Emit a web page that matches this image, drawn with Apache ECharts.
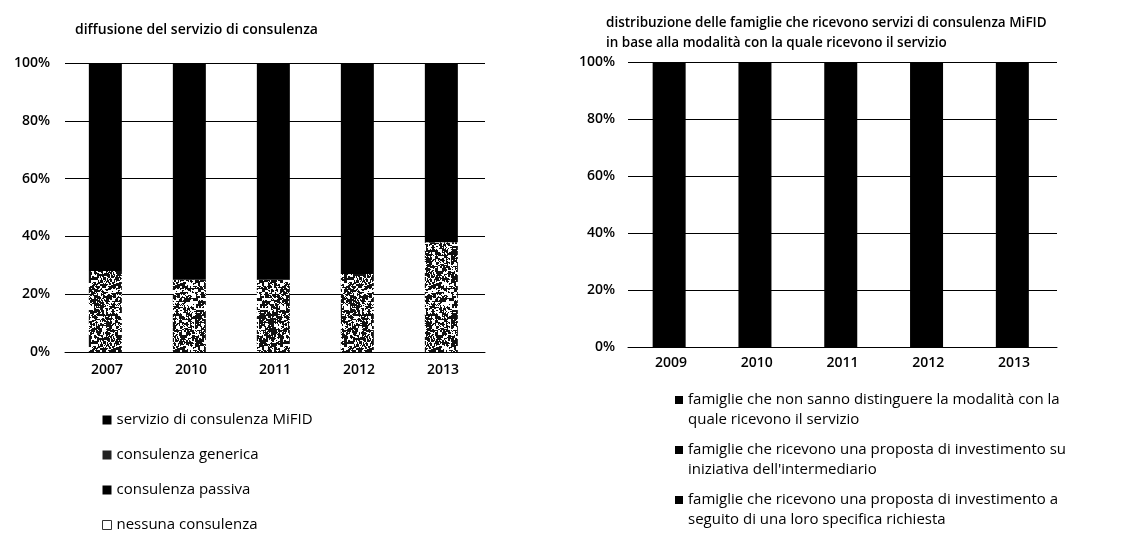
<!DOCTYPE html>
<html>
<head>
<meta charset="utf-8">
<script src="https://cdn.jsdelivr.net/npm/echarts@6/dist/echarts.min.js"></script>
<style>
  html, body { margin: 0; padding: 0; background: #fff; }
  #chart { width: 1135px; height: 539px; }
</style>
</head>
<body>
<div id="chart"></div>
<script>
// Left panel: diffusion of the advisory service (% of households)
const leftYears = ['2007', '2010', '2011', '2012', '2013'];
const mifidShare = [28, 25, 25, 27, 38];
const otherShare = [72, 75, 75, 73, 62];
const leftLegend = ['servizio di consulenza MiFID', 'consulenza generica', 'consulenza passiva', 'nessuna consulenza'];

// Right panel: households receiving MiFID advice, by how the service is received
const rightYears = ['2009', '2010', '2011', '2012', '2013'];
const rightTotal = [100, 100, 100, 100, 100];
const rightLegend = [
  'famiglie che non sanno distinguere la modalità con la\nquale ricevono il servizio',
  "famiglie che ricevono una proposta di investimento su\niniziativa dell'intermediario",
  'famiglie che ricevono una proposta di investimento a\nseguito di una loro specifica richiesta'
];

// Dithered grey texture (deterministic hash, blotchy grain)
function speckleTexture() {
  const size = 64;
  const c = document.createElement('canvas');
  c.width = size; c.height = size;
  const ctx = c.getContext('2d');
  ctx.fillStyle = '#ffffff';
  ctx.fillRect(0, 0, size, size);
  ctx.fillStyle = '#111111';
  const hash = (x, y) => {
    let h = Math.imul(x + 17, 374761393) ^ Math.imul(y + 31, 668265263);
    h = Math.imul(h ^ (h >>> 13), 1274126177);
    return ((h ^ (h >>> 16)) >>> 0) & 255;
  };
  for (let y = 0; y < size; y++) {
    for (let x = 0; x < size; x++) {
      const v = hash(x, y) * 0.3 + hash(x >> 1, (y >> 1) + 97) * 0.35 + hash(Math.floor(x / 3) + 51, Math.floor(y / 3)) * 0.35;
      if (v < 138) ctx.fillRect(x, y, 1, 1);
    }
  }
  return c;
}
const speckle = { image: speckleTexture(), repeat: 'repeat' };

const FONT = 'Open Sans';

function valueAxis(gridIndex, margin) {
  return {
    type: 'value', gridIndex: gridIndex, min: 0, max: 100, interval: 20,
    axisLine: { show: false }, axisTick: { show: false },
    axisLabel: { formatter: v => v + '%', color: '#000', fontFamily: FONT, fontSize: 14, fontWeight: 600, margin: margin },
    splitLine: { show: true, lineStyle: { color: '#000', width: 1 } }
  };
}
function catAxis(gridIndex, data, margin) {
  return {
    type: 'category', gridIndex: gridIndex, data: data,
    axisLine: { show: true, lineStyle: { color: '#000', width: 1 } },
    axisTick: { show: false },
    axisLabel: { color: '#000', fontFamily: FONT, fontSize: 14, fontWeight: 600, margin: margin }
  };
}

const chart = echarts.init(document.getElementById('chart'), null, { renderer: 'canvas' });

chart.setOption({
  backgroundColor: '#fff',
  animation: false,
  title: [
    { text: 'diffusione del servizio di consulenza', left: 70, top: 18,
      textStyle: { fontFamily: FONT, fontSize: 14, fontWeight: 600, color: '#000' } },
    { text: 'distribuzione delle famiglie che ricevono servizi di consulenza MiFID\nin base alla modalità con la quale ricevono il servizio',
      left: 601, top: 8,
      textStyle: { fontFamily: FONT, fontSize: 13.5, fontWeight: 600, color: '#000', lineHeight: 20 } }
  ],
  grid: [
    { left: 65, top: 63, width: 420, height: 289 },
    { left: 628, top: 62, width: 429, height: 285 }
  ],
  xAxis: [catAxis(0, leftYears, 11), catAxis(1, rightYears, 9)],
  yAxis: [valueAxis(0, 15), valueAxis(1, 13)],
  legend: [
    {
      orient: 'vertical', left: 102, top: 411, height: 140, padding: 0, itemGap: 17,
      itemWidth: 9, itemHeight: 9, icon: 'rect',
      textStyle: { fontFamily: FONT, fontSize: 15, fontWeight: 500, color: '#000', lineHeight: 18 },
      data: [
        { name: leftLegend[0], itemStyle: { color: '#000' } },
        { name: leftLegend[1], itemStyle: { color: '#222' } },
        { name: leftLegend[2], itemStyle: { color: '#000' } },
        { name: leftLegend[3], itemStyle: { color: '#fff', borderColor: '#333', borderWidth: 1 } }
      ]
    },
    {
      // a leading blank line keeps each marker beside the first line of its label
      orient: 'vertical', left: 675, top: 370, height: 169, padding: 0, itemGap: -10,
      itemWidth: 8, itemHeight: 8, icon: 'rect',
      formatter: name => '\n' + name,
      textStyle: { fontFamily: FONT, fontSize: 15, fontWeight: 500, color: '#000', lineHeight: 20 },
      data: rightLegend.map(n => ({ name: n, itemStyle: { color: '#000' } }))
    }
  ],
  series: [
    { name: leftLegend[0], type: 'bar', stack: 'l', xAxisIndex: 0, yAxisIndex: 0, barWidth: 33,
      itemStyle: { color: speckle }, data: mifidShare },
    { name: 'altre modalità', type: 'bar', stack: 'l', xAxisIndex: 0, yAxisIndex: 0, barWidth: 33,
      itemStyle: { color: '#000' }, data: otherShare },
    { name: leftLegend[1], type: 'bar', xAxisIndex: 0, yAxisIndex: 0, itemStyle: { color: '#222' }, data: [] },
    { name: leftLegend[2], type: 'bar', xAxisIndex: 0, yAxisIndex: 0, itemStyle: { color: '#000' }, data: [] },
    { name: leftLegend[3], type: 'bar', xAxisIndex: 0, yAxisIndex: 0, itemStyle: { color: '#fff' }, data: [] },

    { name: 'totale', type: 'bar', stack: 'r', xAxisIndex: 1, yAxisIndex: 1, barWidth: 33,
      itemStyle: { color: '#000' }, data: rightTotal },
    { name: rightLegend[0], type: 'bar', xAxisIndex: 1, yAxisIndex: 1, itemStyle: { color: '#000' }, data: [] },
    { name: rightLegend[1], type: 'bar', xAxisIndex: 1, yAxisIndex: 1, itemStyle: { color: '#000' }, data: [] },
    { name: rightLegend[2], type: 'bar', xAxisIndex: 1, yAxisIndex: 1, itemStyle: { color: '#000' }, data: [] }
  ]
});
</script>
</body>
</html>
